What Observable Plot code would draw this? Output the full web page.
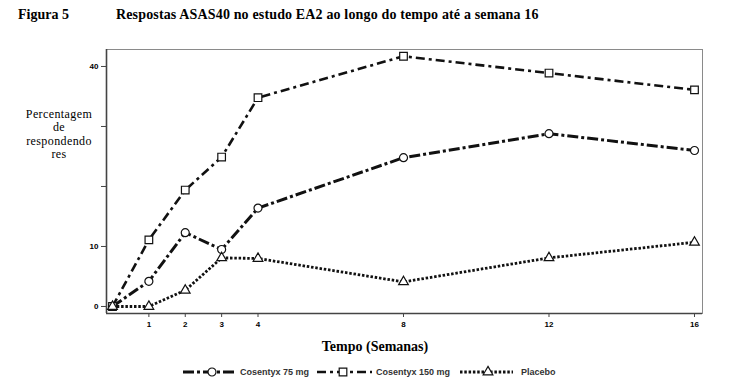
<!DOCTYPE html>
<html>
<head>
<meta charset="utf-8">
<script src="https://cdn.jsdelivr.net/npm/d3@7"></script>
<script src="https://cdn.jsdelivr.net/npm/@observablehq/plot@0.6"></script>
<style>
  html, body { margin: 0; padding: 0; background: #fff; }
  #wrap { position: relative; width: 738px; height: 388px; overflow: hidden; }
  #wrap svg.plot { position: absolute; left: 0; top: 0; }
  .t { position: absolute; font-family: "Liberation Serif", "DejaVu Serif", serif; color: #000; white-space: nowrap; }
  .bold { font-weight: bold; }
</style>
</head>
<body>
<div id="wrap"></div>
<script>
// ---- data ----
const weeks = [0, 1, 2, 3, 4, 8, 12, 16];
const cosentyx75 = [0, 4.2, 12.3, 9.5, 16.4, 24.8, 28.8, 26.0];
const cosentyx150 = [0, 11.1, 19.4, 24.9, 34.8, 41.7, 38.9, 36.1];
const placebo = [0, 0, 2.7, 8.1, 8.0, 4.1, 8.1, 10.7];
const seriesNames = ["Cosentyx 75 mg", "Cosentyx 150 mg", "Placebo"];
const xTicks = [1, 2, 3, 4, 8, 12, 16];
const yTicks = [0, 10, 20, 30, 40];
const yLabeled = [0, 10, 40];

const seriesValues = [cosentyx75, cosentyx150, placebo];
const styles = [
  {dash: "11,3,3,3", width: 3, symbol: "circle", r: 4},
  {dash: "9,4,3,4", width: 2.6, symbol: "square", r: 4.3},
  {dash: "2.5,1.8", width: 2.8, symbol: "triangle", r: 3.6}
];
const rows = [];
seriesNames.forEach((s, i) => weeks.forEach((w, j) => rows.push({series: s, week: w, value: seriesValues[i][j]})));

const marks = [
  Plot.frame({stroke: "#8a8a8a", strokeWidth: 1}),
  Plot.ruleX([-0.165], {stroke: "#444", strokeWidth: 1.6}),
  Plot.ruleY([-1.17], {stroke: "#444", strokeWidth: 1.6}),
  Plot.axisY({ticks: yTicks, tickSize: 5, tickFormat: d => yLabeled.includes(d) ? String(d) : "",
    fontFamily: "Liberation Sans, Arial, sans-serif", fontWeight: "bold", fontSize: 8, tickPadding: 3, stroke: "#444", label: null}),
  Plot.axisX({ticks: xTicks, tickSize: 4, tickFormat: d => String(d),
    fontFamily: "Liberation Sans, Arial, sans-serif", fontWeight: "bold", fontSize: 8, tickPadding: 4, stroke: "#444", label: null})
];
seriesNames.forEach((s, i) => {
  const d = rows.filter(r => r.series === s);
  marks.push(Plot.line(d, {x: "week", y: "value", stroke: "#111", strokeWidth: styles[i].width, strokeDasharray: styles[i].dash, strokeLinecap: "butt"}));
});
seriesNames.forEach((s, i) => {
  const d = rows.filter(r => r.series === s);
  marks.push(Plot.dot(d, {x: "week", y: "value", symbol: () => styles[i].symbol, r: styles[i].r, fill: "white", stroke: "#111", strokeWidth: 1.2}));
});

const chart = Plot.plot({
  width: 738, height: 388,
  marginLeft: 106, marginRight: 36, marginTop: 49, marginBottom: 75,
  x: {domain: [-0.165, 16.22]},
  y: {domain: [-1.17, 42.83]},
  symbol: {type: "identity"},
  style: {background: "white", overflow: "visible"},
  marks
});
chart.classList.add("plot");
const wrap = document.getElementById("wrap");
wrap.appendChild(chart);

function addText(txt, left, top, opts = {}) {
  const el = document.createElement("div");
  el.className = "t" + (opts.bold ? " bold" : "");
  el.textContent = txt;
  el.style.left = left + "px";
  el.style.top = top + "px";
  el.style.fontSize = (opts.size || 12) + "px";
  if (opts.spacing) el.style.letterSpacing = opts.spacing + "px";
  if (opts.center) el.style.transform = "translateX(-50%)";
  wrap.appendChild(el);
  return el;
}
addText("Figura 5", 18, 7, {bold: true, size: 14});
addText("Respostas ASAS40 no estudo EA2 ao longo do tempo até a semana 16", 116, 7, {bold: true, size: 14, spacing: 0.15});
const yl = ["Percentagem", "de", "respondendo", "res"];
yl.forEach((t, i) => addText(t, 59, 107 + i * 13.3, {size: 12, center: true, spacing: 0.4}));
addText("Tempo (Semanas)", 375, 339, {bold: true, size: 14, center: true});

// legend
const leg = d3.create("svg").attr("width", 738).attr("height", 30)
  .style("position", "absolute").style("left", "0px").style("top", "359px");
const legItems = [
  {x0: 183, x1: 237, sx: 212, tx: 240},
  {x0: 317, x1: 372, sx: 343, tx: 376},
  {x0: 460, x1: 513, sx: 488, tx: 521}
];
const sym = [d3.symbolCircle, d3.symbolSquare, d3.symbolTriangle];
legItems.forEach((it, i) => {
  const y = 13;
  leg.append("line").attr("x1", it.x0).attr("x2", it.x1).attr("y1", y).attr("y2", y)
    .attr("stroke", "#111").attr("stroke-width", styles[i].width).attr("stroke-dasharray", styles[i].dash);
  leg.append("path").attr("d", d3.symbol(sym[i], Math.PI * styles[i].r * styles[i].r)())
    .attr("transform", `translate(${it.sx},${y})`).attr("fill", "white").attr("stroke", "#111").attr("stroke-width", 1.2);
  leg.append("text").attr("x", it.tx).attr("y", y + 3.2).text(seriesNames[i])
    .attr("font-family", "Liberation Sans, Arial, sans-serif").attr("font-size", 9).attr("font-weight", "bold").attr("fill", "#333");
});
wrap.appendChild(leg.node());
</script>
</body>
</html>
